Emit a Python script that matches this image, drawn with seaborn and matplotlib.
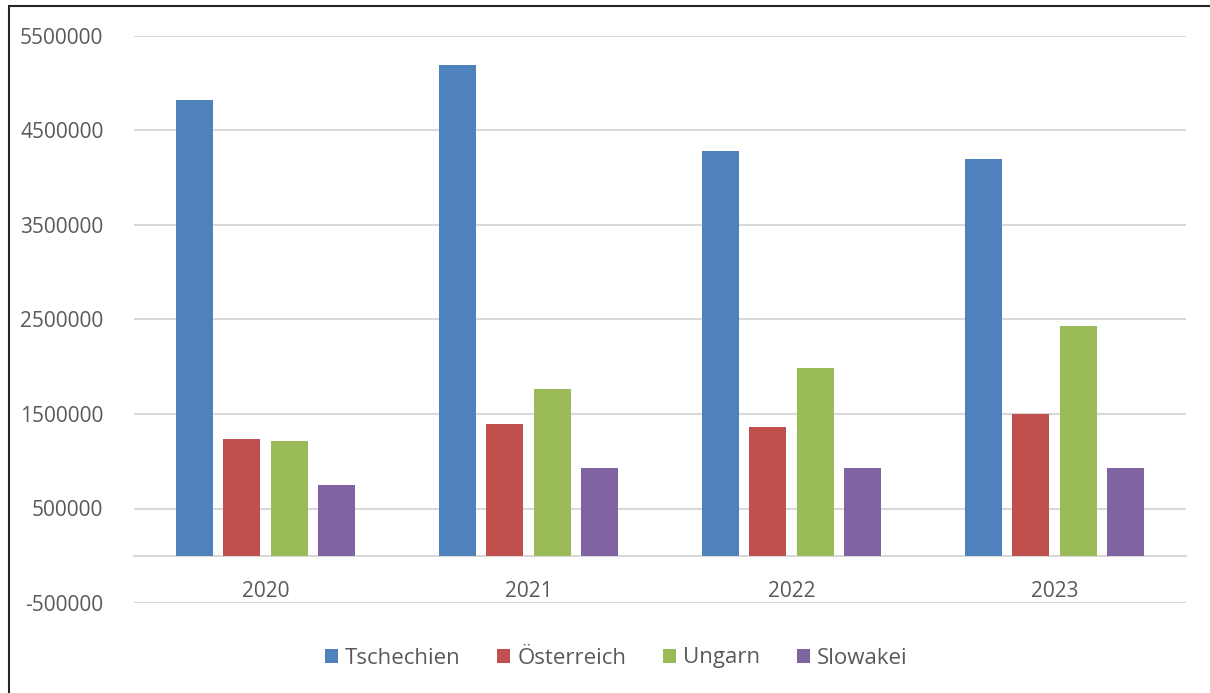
import matplotlib
matplotlib.use("Agg")
import matplotlib.pyplot as plt
import seaborn as sns
import pandas as pd
from matplotlib.patches import Rectangle
from matplotlib.ticker import FixedLocator

years = ["2020", "2021", "2022", "2023"]
countries = ["Tschechien", "Österreich", "Ungarn", "Slowakei"]
tschechien = [4820000, 5190000, 4286000, 4200000]
oesterreich = [1231000, 1394000, 1362000, 1503000]
ungarn = [1214000, 1761000, 1986000, 2434000]
slowakei = [748000, 928000, 931000, 924000]
y_ticks = [-500000, 500000, 1500000, 2500000, 3500000, 4500000, 5500000]

colors = ["#4F81BD", "#C0504D", "#9BBB59", "#8064A2"]

rows = []
for name, vals in zip(countries, [tschechien, oesterreich, ungarn, slowakei]):
    for yr, v in zip(years, vals):
        rows.append({"Jahr": yr, "Land": name, "Wert": v})
df = pd.DataFrame(rows)

sns.set_theme(style="white")
plt.rcParams["font.family"] = ["Open Sans", "DejaVu Sans"]
text_color = "#595959"

fig = plt.figure(figsize=(12.10, 6.93), dpi=100)
ax = fig.add_axes([134 / 1210, 1 - 603 / 693, (1186 - 134) / 1210, (603 - 36) / 693])

sns.barplot(data=df, x="Jahr", y="Wert", hue="Land", order=years, hue_order=countries,
            palette=colors, width=0.72, gap=0.22, ax=ax, legend=True,
            edgecolor="none", linewidth=0, saturation=1)

ax.set_xlim(-0.5, 3.5)
ax.set_ylim(-500000, 5500000)
ax.yaxis.set_major_locator(FixedLocator(y_ticks))
ax.set_yticklabels([str(t) for t in y_ticks])
ax.grid(axis="y", color="#D9D9D9", linewidth=1.5)
ax.set_axisbelow(True)
ax.set_xlabel("")
ax.set_ylabel("")

for s in ["top", "right", "left"]:
    ax.spines[s].set_visible(False)
ax.spines["bottom"].set_position(("data", 0))
ax.spines["bottom"].set_color("#D9D9D9")
ax.spines["bottom"].set_linewidth(1.5)
ax.spines["bottom"].set_zorder(0.5)

ax.tick_params(axis="both", length=0, labelsize=15, labelcolor=text_color)
ax.tick_params(axis="y", pad=22)
ax.tick_params(axis="x", pad=18)

leg = ax.legend(loc="center", bbox_to_anchor=(616 / 1210, (693 - 658) / 693), bbox_transform=fig.transFigure,
                ncol=4, frameon=False, fontsize=16, handlelength=0.6, handleheight=0.6,
                handletextpad=0.3, columnspacing=1.65)
for t in leg.get_texts():
    t.set_color(text_color)

fig.patches.append(Rectangle((9 / 1210, -0.01), 1.02, 1 - 6 / 693 + 0.01,
                             transform=fig.transFigure, fill=False,
                             edgecolor="#262626", linewidth=1.5, clip_on=False))

fig.savefig("out.png", dpi=100)
